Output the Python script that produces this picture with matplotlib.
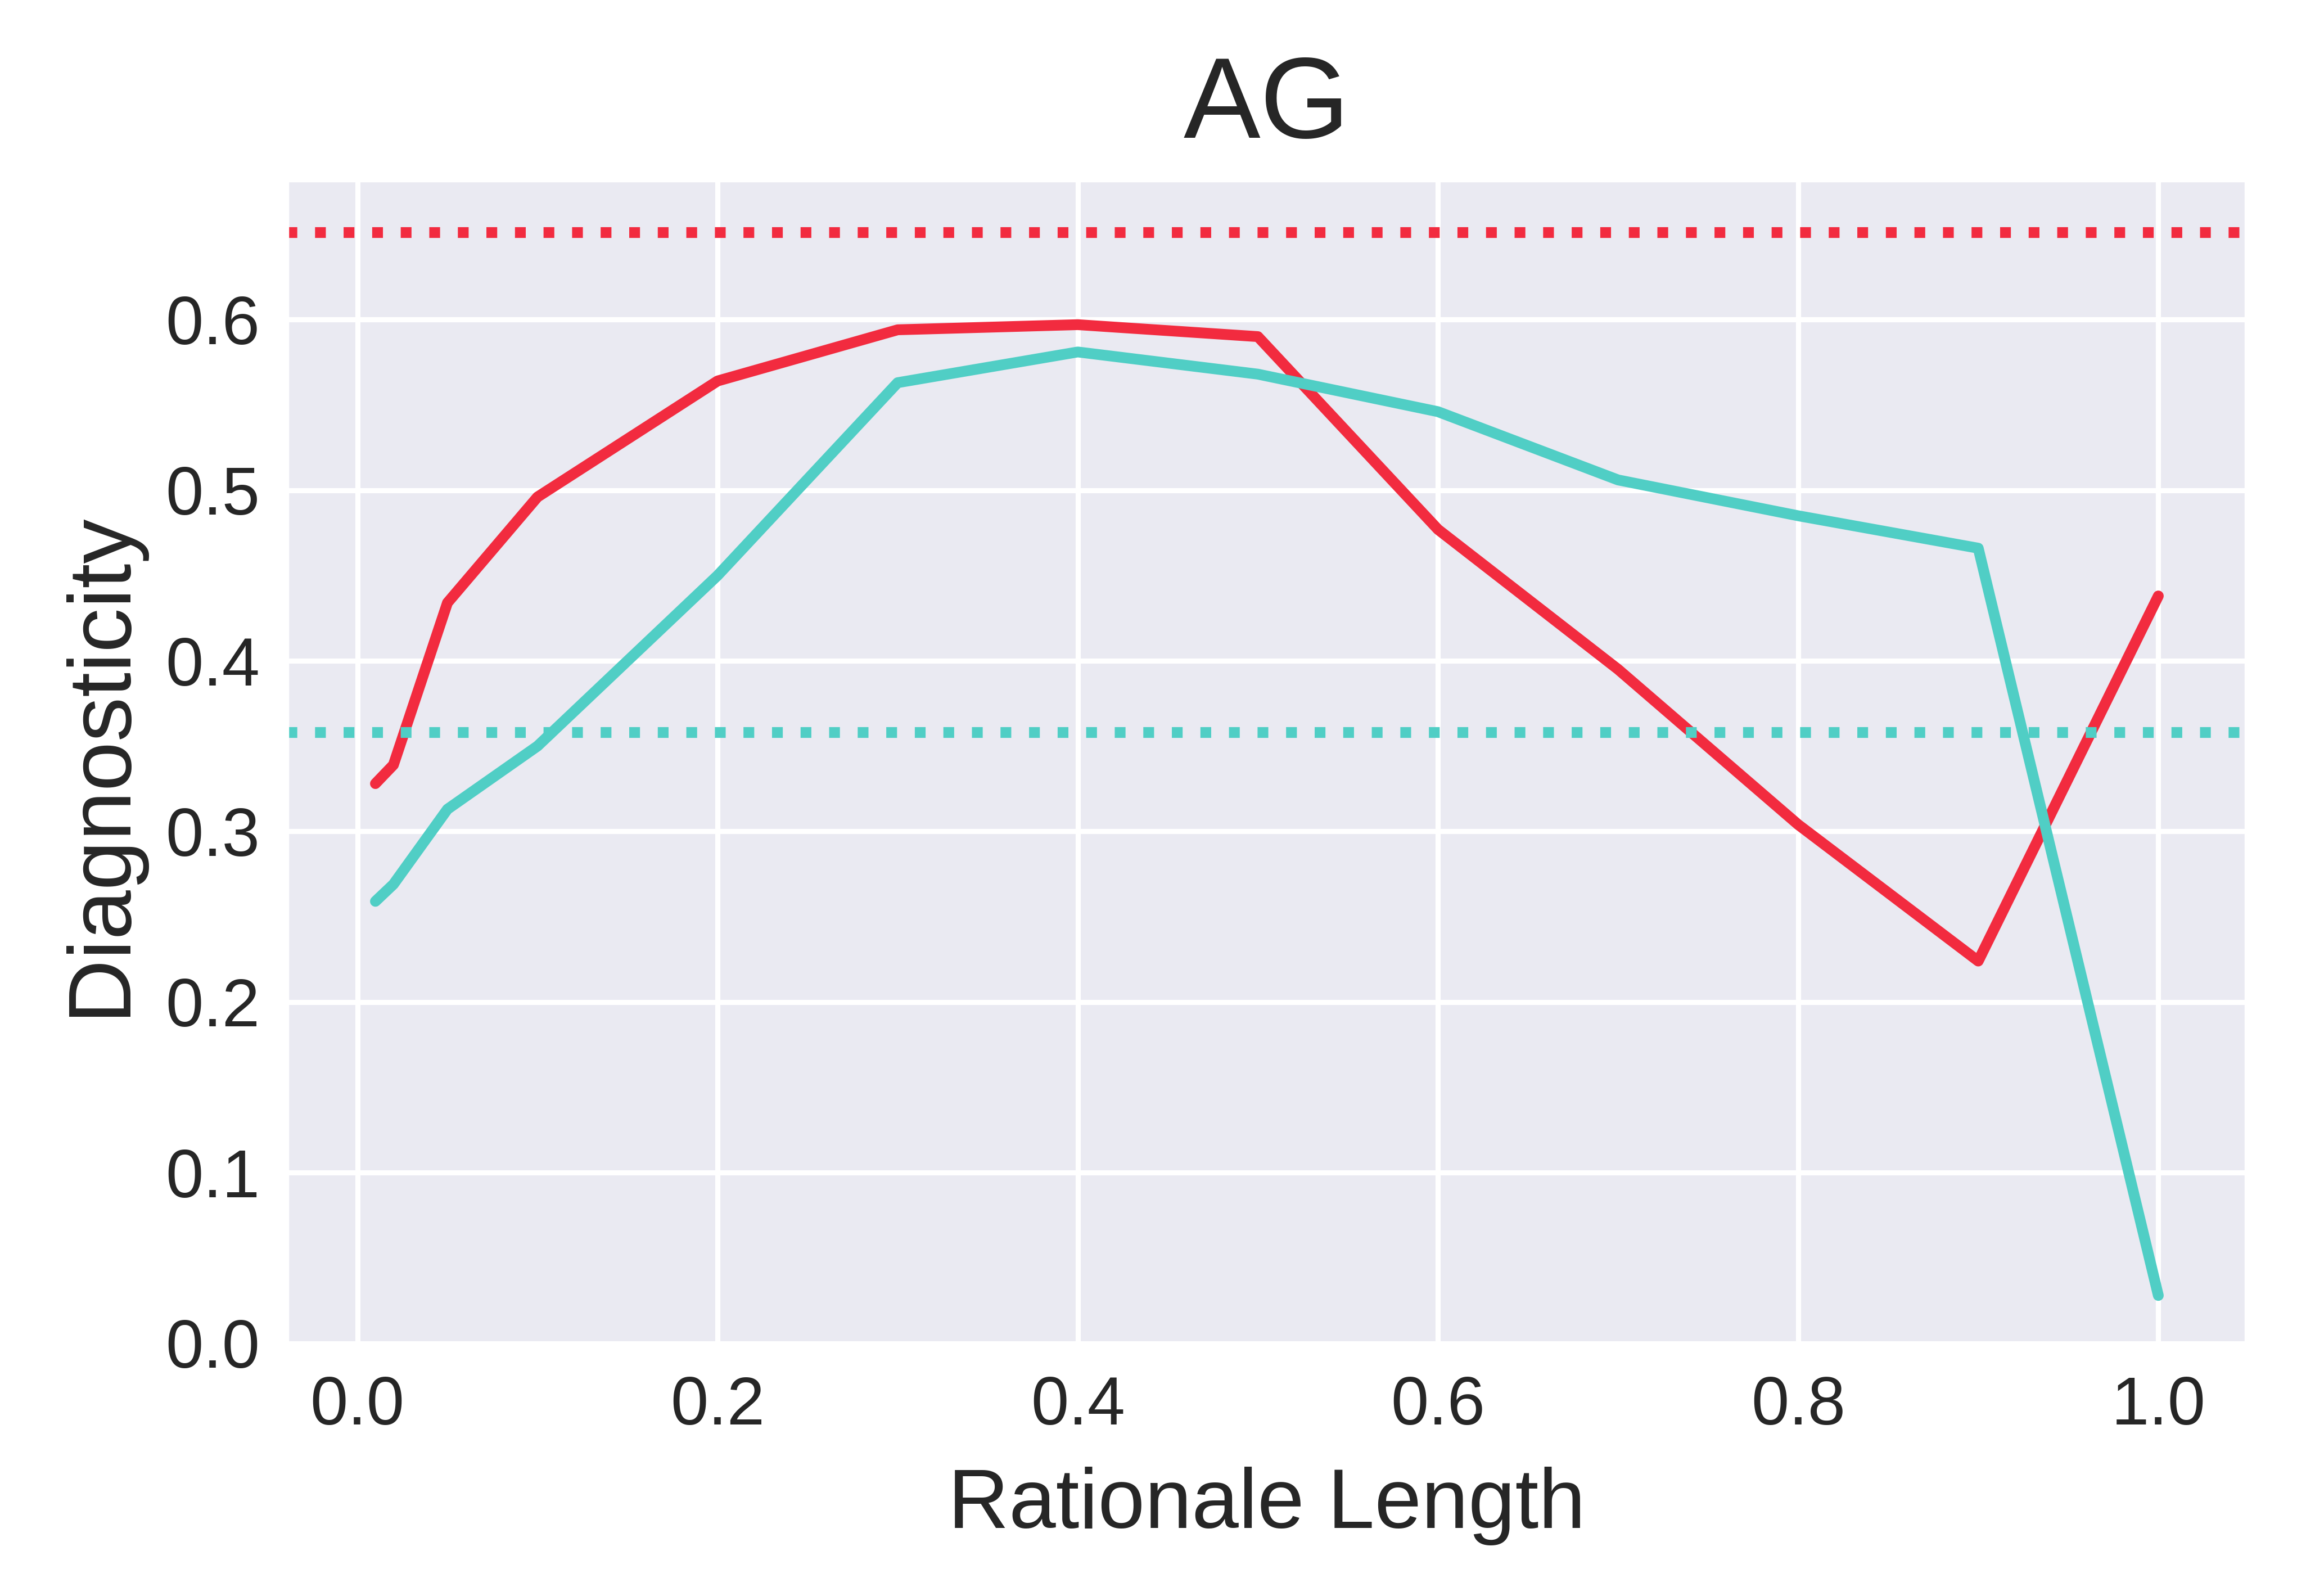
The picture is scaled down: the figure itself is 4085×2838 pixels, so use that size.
import matplotlib
matplotlib.use("Agg")
import matplotlib.pyplot as plt
import seaborn as sns

# rationale length fractions
lengths = [0.01, 0.02, 0.05, 0.1, 0.2, 0.3, 0.4, 0.5, 0.6, 0.7, 0.8, 0.9, 1.0]

# diagnosticity per length
diag_red = [0.328, 0.339, 0.434, 0.496, 0.564, 0.594, 0.597, 0.590, 0.477, 0.395, 0.304, 0.224, 0.438]
diag_teal = [0.259, 0.269, 0.313, 0.350, 0.450, 0.563, 0.581, 0.568, 0.546, 0.506, 0.485, 0.466, 0.028]

# reference levels (dotted)
ref_red = 0.651
ref_teal = 0.358

red = "#f22b3f"
teal = "#50cec5"

sns.set_theme(style="darkgrid")
plt.rcParams['font.family'] = ['Liberation Sans', 'DejaVu Sans']

fig, ax = plt.subplots(figsize=(6.81, 4.73), dpi=600)
fig.subplots_adjust(left=0.1246, right=0.9782, bottom=0.155, top=0.8876)

ax.plot(lengths, diag_red, color=red, lw=2.3, solid_capstyle="round")
ax.plot(lengths, diag_teal, color=teal, lw=2.3, solid_capstyle="round")
ax.axhline(ref_red, color=red, ls=":", lw=2.3)
ax.axhline(ref_teal, color=teal, ls=":", lw=2.3)

ax.grid(True, color="white", lw=1.1)
ax.set_xticks([0.0, 0.2, 0.4, 0.6, 0.8, 1.0])
ax.set_yticks([0.0, 0.1, 0.2, 0.3, 0.4, 0.5, 0.6])
ax.tick_params(labelsize=14.5, colors="#262626", length=0)
ax.tick_params(axis="x", pad=5.8)
ax.tick_params(axis="y", pad=5.6)

ax.set_title("AG", fontsize=24.6, color="#262626", pad=8.9)
ax.set_xlabel("Rationale Length", fontsize=18, color="#262626", labelpad=6)
ax.set_ylabel("Diagnosticity", fontsize=19, color="#262626", labelpad=5)

fig.savefig("out.png", dpi=600)
